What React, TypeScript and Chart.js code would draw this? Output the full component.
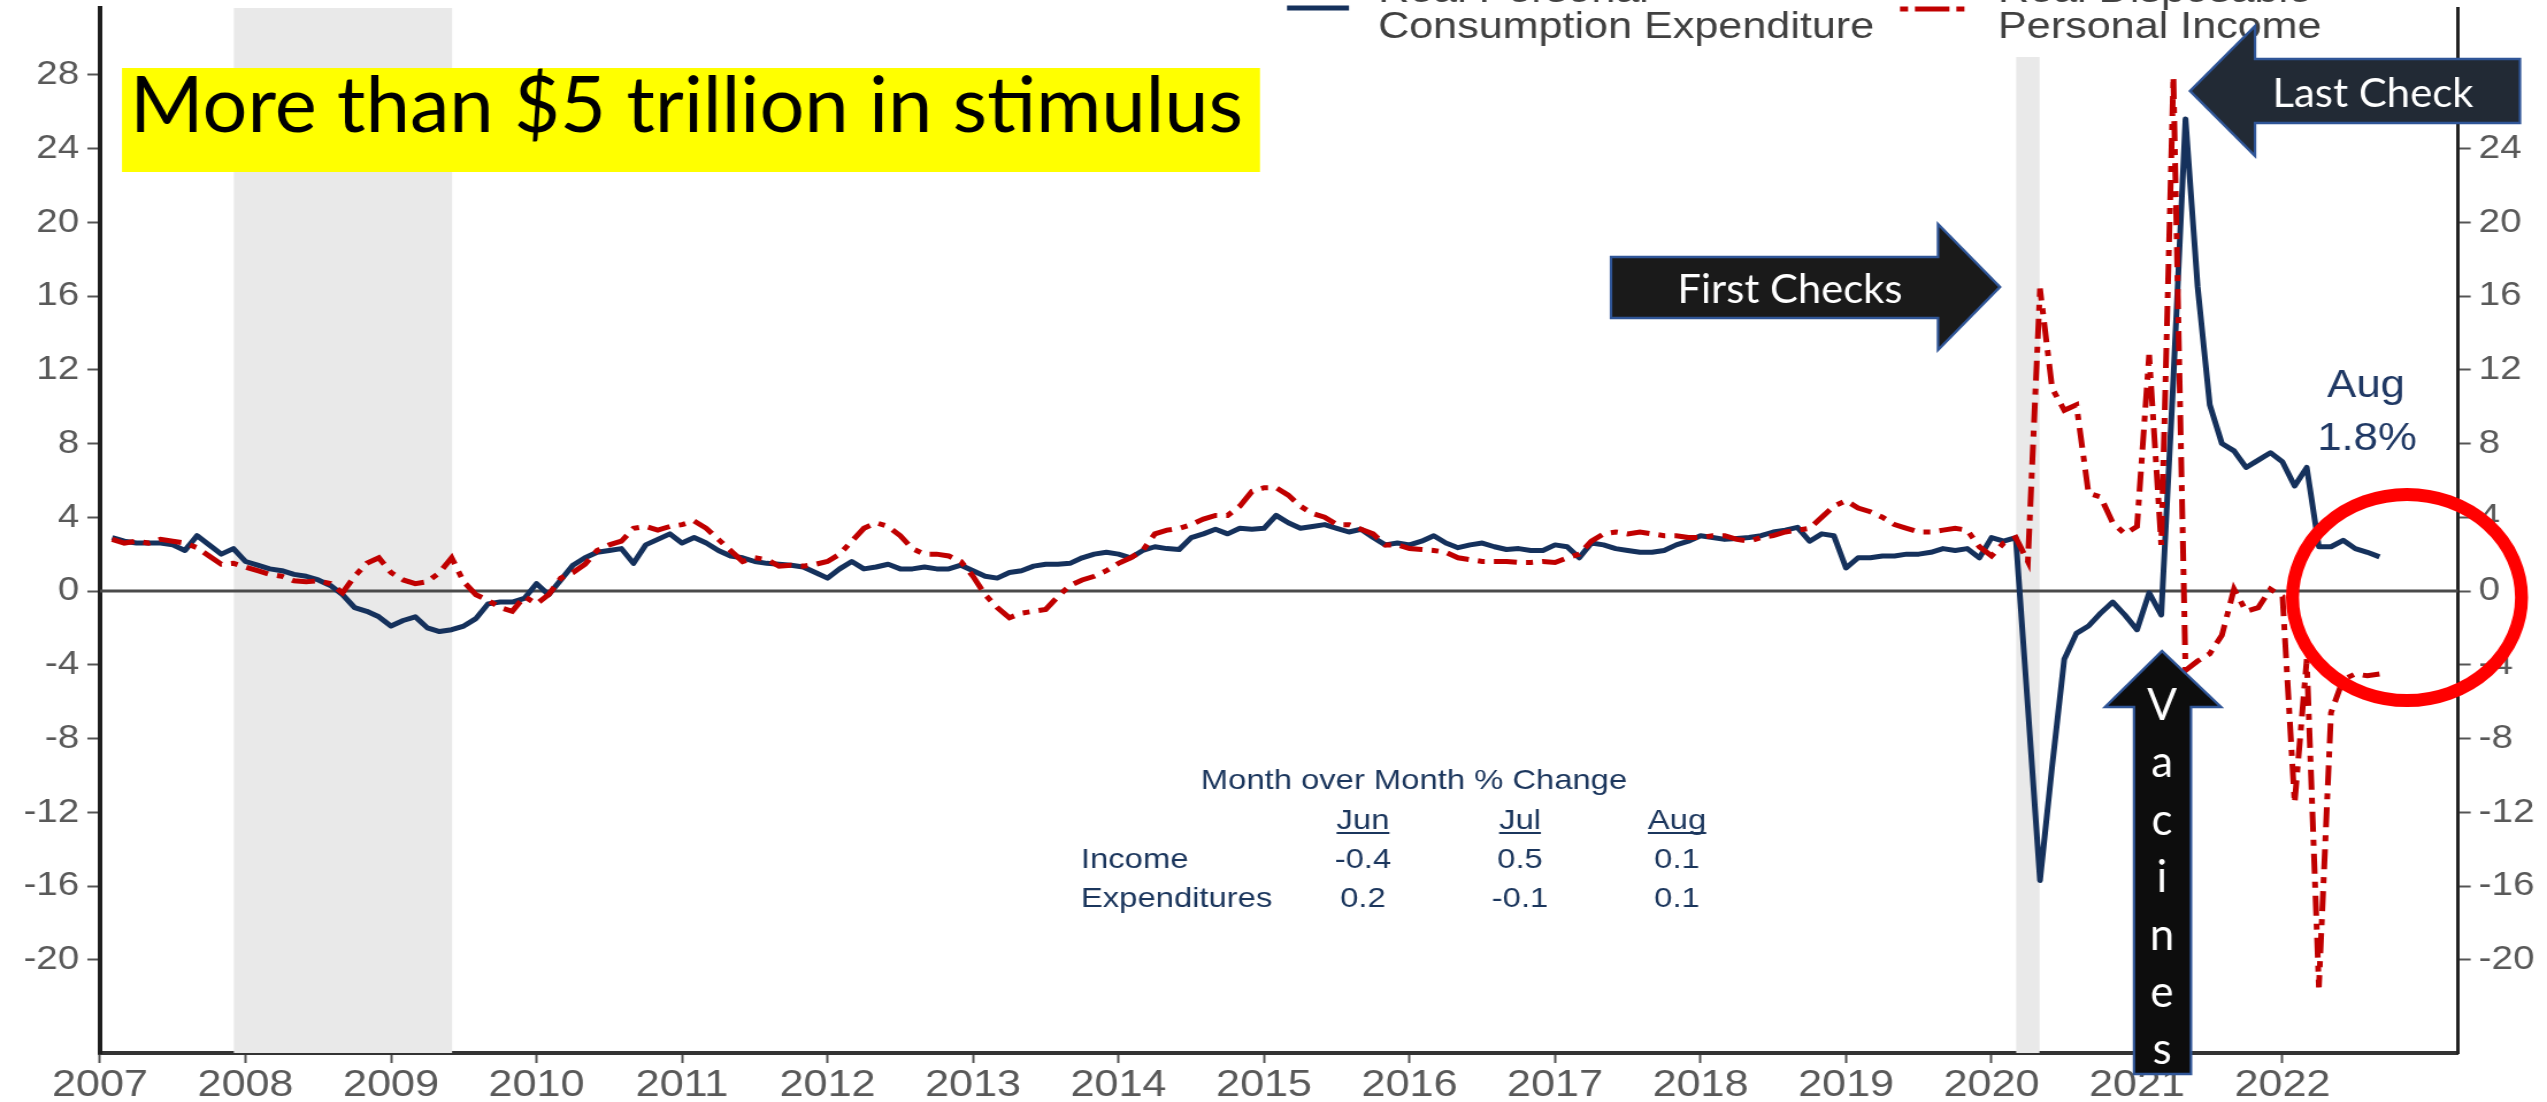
import React, { useEffect, useRef } from "react";
import { Chart, registerables } from "chart.js";

Chart.register(...registerables);

// ---------------- data ----------------
const START_YEAR = 2007; // monthly observations, Jan 2007 .. Aug 2022 (plotted at month end)

// Real Personal Consumption Expenditure, % y/y
const pceValues: number[] = [
  2.9, 2.7, 2.6, 2.6, 2.6, 2.5, 2.2, 3.0, 2.5, 2.0, 2.3, 1.6,
  1.4, 1.2, 1.1, 0.9, 0.8, 0.6, 0.3, -0.2, -0.9, -1.1, -1.4, -1.9,
  -1.6, -1.4, -2.0, -2.2, -2.1, -1.9, -1.5, -0.7, -0.6, -0.6, -0.4, 0.4,
  -0.2, 0.6, 1.4, 1.8, 2.1, 2.2, 2.3, 1.5, 2.5, 2.8, 3.1, 2.6,
  2.9, 2.6, 2.2, 1.9, 1.8, 1.6, 1.5, 1.45, 1.4, 1.3, 1.0, 0.7,
  1.2, 1.6, 1.2, 1.3, 1.45, 1.2, 1.2, 1.3, 1.2, 1.2, 1.4, 1.1,
  0.8, 0.7, 1.0, 1.1, 1.35, 1.45, 1.45, 1.5, 1.8, 2.0, 2.1, 2.0,
  1.8, 2.2, 2.4, 2.3, 2.25, 2.9, 3.1, 3.35, 3.1, 3.4, 3.35, 3.4,
  4.1, 3.7, 3.4, 3.5, 3.6, 3.4, 3.2, 3.35, 2.9, 2.5, 2.6, 2.5,
  2.7, 3.0, 2.6, 2.35, 2.5, 2.6, 2.4, 2.25, 2.3, 2.2, 2.2, 2.5,
  2.4, 1.8, 2.6, 2.5, 2.3, 2.2, 2.1, 2.1, 2.2, 2.5, 2.7, 3.0,
  2.9, 2.8, 2.85, 2.9, 3.0, 3.2, 3.3, 3.45, 2.7, 3.1, 3.0, 1.25,
  1.8, 1.8, 1.9, 1.9, 2.0, 2.0, 2.1, 2.3, 2.2, 2.3, 1.8, 2.9,
  2.7, 2.9, -6.3, -15.7, -9.5, -3.7, -2.3, -1.9, -1.2, -0.6, -1.3, -2.1,
  -0.1, -1.3, 11.5, 25.6, 16.5, 10.1, 8.0, 7.6, 6.7, 7.1, 7.5, 7.0,
  5.7, 6.7, 2.4, 2.4, 2.75, 2.3, 2.1, 1.85,
];

// Real Disposable Personal Income, % y/y
const dpiValues: number[] = [
  2.8, 2.6, 2.7, 2.6, 2.8, 2.7, 2.6, 2.35, 1.9, 1.45, 1.5, 1.3,
  1.1, 0.9, 0.8, 0.55, 0.5, 0.55, 0.4, -0.1, 0.8, 1.5, 1.8, 1.0,
  0.6, 0.4, 0.5, 1.0, 1.8, 0.5, -0.2, -0.5, -0.9, -1.1, -0.3, -0.7,
  -0.2, 0.7, 1.0, 1.45, 2.2, 2.5, 2.7, 3.4, 3.5, 3.3, 3.5, 3.6,
  3.8, 3.4, 2.8, 2.2, 1.6, 1.8, 1.7, 1.35, 1.4, 1.35, 1.45, 1.6,
  2.0, 2.7, 3.4, 3.7, 3.5, 3.0, 2.3, 2.0, 2.0, 1.9, 1.6, 0.8,
  -0.2, -0.9, -1.45, -1.2, -1.1, -1.0, -0.3, 0.3, 0.6, 0.8, 1.1, 1.5,
  1.8, 2.2, 3.1, 3.3, 3.4, 3.6, 3.9, 4.1, 4.1, 4.6, 5.4, 5.6,
  5.6, 5.2, 4.6, 4.2, 4.0, 3.6, 3.6, 3.35, 3.1, 2.5, 2.5, 2.3,
  2.25, 2.2, 2.1, 1.8, 1.7, 1.6, 1.6, 1.6, 1.55, 1.55, 1.6, 1.55,
  1.8, 2.0, 2.7, 3.1, 3.2, 3.1, 3.2, 3.1, 3.0, 3.0, 2.9, 2.9,
  3.0, 3.0, 2.8, 2.7, 2.9, 3.0, 3.2, 3.3, 3.4, 4.0, 4.6, 4.9,
  4.5, 4.3, 4.0, 3.6, 3.4, 3.2, 3.2, 3.3, 3.4, 3.3, 2.4, 1.9,
  2.6, 2.9, 1.6, 16.4, 11.0, 9.8, 10.1, 5.3, 5.1, 3.7, 3.1, 3.5,
  12.8, 2.5, 27.9, -4.3, -3.8, -3.4, -2.4, 0.1, -1.1, -0.9, 0.1, -0.3,
  -11.5, -3.7, -21.5, -6.6, -4.8, -4.5, -4.6, -4.5,
];

const xTickYears = [2007, 2008, 2009, 2010, 2011, 2012, 2013, 2014, 2015, 2016, 2017, 2018, 2019, 2020, 2021, 2022];
const yTickValues = [-20, -16, -12, -8, -4, 0, 4, 8, 12, 16, 20, 24, 28];
const recessionStarts = [2007.92, 2020.17];
const recessionEnds = [2009.42, 2020.33];

const seriesNames = [
  ["Real Personal", "Consumption Expenditure"],
  ["Real Disposable", "Personal Income"],
];
const tableTitle = "Month over Month % Change";
const tableMonths = ["Jun", "Jul", "Aug"];
const tableRowLabels = ["Income", "Expenditures"];
const tableIncome = ["-0.4", "0.5", "0.1"];
const tableExpenditures = ["0.2", "-0.1", "0.1"];
const augLabel = ["Aug", "1.8%"];
const headline = "More than $5 trillion in stimulus";
const firstChecksLabel = "First Checks";
const lastCheckLabel = "Last Check";
const vaccineLetters = ["V", "a", "c", "i", "n", "e", "s"];

// ---------------- layout ----------------
const FULL_W = 2547;
const FULL_H = 1102;
const CW = 2215; // chart canvas width before horizontal stretch
const S = FULL_W / CW; // horizontal stretch of the chart picture
const fx = (x: number) => x / S; // full-picture x -> chart canvas x

const NAVY = "#15315c";
const RED = "#c00000";
const TEXT_NAVY = "#1b365d";
const TICK_GRAY = "#595959";
const SANS = "'Liberation Sans', Arial, sans-serif";
const CAL = "Lato, 'Open Sans', sans-serif";

function fitText(ctx: CanvasRenderingContext2D, text: string, x: number, y: number, width: number, align: CanvasTextAlign) {
  const w = ctx.measureText(text).width;
  const sx = width / w;
  ctx.save();
  ctx.translate(x, y);
  ctx.scale(sx, 1);
  ctx.textAlign = align;
  ctx.fillText(text, 0, 0);
  ctx.restore();
}

const backgroundPlugin = {
  id: "bgShade",
  beforeDraw(chart: any) {
    const ctx = chart.ctx;
    ctx.save();
    ctx.fillStyle = "#ffffff";
    ctx.fillRect(0, 0, chart.width, chart.height);
    ctx.restore();
  },
  beforeDatasetsDraw(chart: any) {
    const { ctx, chartArea, scales } = chart;
    const xs = scales.x;
    const ys = scales.y;
    ctx.save();
    ctx.fillStyle = "#e9e9e9";
    for (let i = 0; i < recessionStarts.length; i++) {
      const a = xs.getPixelForValue(recessionStarts[i]);
      const b = xs.getPixelForValue(recessionEnds[i]);
      ctx.fillRect(a, chartArea.top, b - a, chartArea.bottom - chartArea.top);
    }
    // zero line
    const y0 = ys.getPixelForValue(0);
    ctx.strokeStyle = "#4a4a4a";
    ctx.lineWidth = 3;
    ctx.beginPath();
    ctx.moveTo(chartArea.left, y0);
    ctx.lineTo(chartArea.right, y0);
    ctx.stroke();

    // legend (white box, keys, labels)
    ctx.fillStyle = "#ffffff";
    ctx.fillRect(fx(1270), 0, fx(2345) - fx(1270), 57);
    ctx.lineCap = "butt";
    ctx.strokeStyle = NAVY;
    ctx.lineWidth = 5;
    ctx.beginPath();
    ctx.moveTo(fx(1287), 8);
    ctx.lineTo(fx(1349), 8);
    ctx.stroke();
    ctx.strokeStyle = RED;
    ctx.setLineDash([7, 6, 30, 6]);
    ctx.beginPath();
    ctx.moveTo(fx(1900), 9);
    ctx.lineTo(fx(1965), 9);
    ctx.stroke();
    ctx.setLineDash([]);
    ctx.fillStyle = "#404040";
    ctx.font = `37.5px ${SANS}`;
    ctx.textAlign = "left";
    ctx.textBaseline = "alphabetic";
    ctx.fillText(seriesNames[0][0], fx(1378), 2);
    ctx.fillText(seriesNames[0][1], fx(1378), 38);
    ctx.fillText(seriesNames[1][0], fx(1998), 2);
    ctx.fillText(seriesNames[1][1], fx(1998), 38);
    ctx.restore();
  },
  afterDatasetsDraw(chart: any) {
    const ctx = chart.ctx;
    ctx.save();
    ctx.fillStyle = TEXT_NAVY;
    ctx.strokeStyle = TEXT_NAVY;
    ctx.textBaseline = "alphabetic";
    ctx.font = `28.5px ${SANS}`;
    ctx.textAlign = "center";
    ctx.fillText(tableTitle, fx(1414), 789);
    const cols = [1363, 1520, 1677];
    tableMonths.forEach((m, i) => {
      ctx.textAlign = "center";
      ctx.fillText(m, fx(cols[i]), 829);
      const w = ctx.measureText(m).width;
      ctx.lineWidth = 2;
      ctx.beginPath();
      ctx.moveTo(fx(cols[i]) - w / 2, 833);
      ctx.lineTo(fx(cols[i]) + w / 2, 833);
      ctx.stroke();
    });
    ctx.textAlign = "left";
    ctx.fillText(tableRowLabels[0], fx(1081), 868);
    ctx.fillText(tableRowLabels[1], fx(1081), 907);
    ctx.textAlign = "center";
    tableIncome.forEach((v, i) => ctx.fillText(v, fx(cols[i]), 868));
    tableExpenditures.forEach((v, i) => ctx.fillText(v, fx(cols[i]), 907));

    ctx.font = `38px ${SANS}`;
    ctx.fillStyle = "#1f3864";
    ctx.fillText(augLabel[0], fx(2366), 397);
    ctx.fillText(augLabel[1], fx(2367), 450);
    ctx.restore();
  },
  afterDraw(chart: any) {
    const ctx: CanvasRenderingContext2D = chart.ctx;
    ctx.save();
    ctx.scale(1 / S, 1); // draw overlays in full-picture coordinates
    ctx.textBaseline = "alphabetic";

    // headline box
    ctx.fillStyle = "#ffff00";
    ctx.fillRect(122, 68, 1260 - 122, 104);
    ctx.fillStyle = "#000000";
    ctx.font = `77px ${CAL}`;
    fitText(ctx, headline, 130, 132, 1113, "left");

    const arrow = (pts: number[][], fill: string) => {
      ctx.beginPath();
      ctx.moveTo(pts[0][0], pts[0][1]);
      for (let i = 1; i < pts.length; i++) ctx.lineTo(pts[i][0], pts[i][1]);
      ctx.closePath();
      ctx.fillStyle = fill;
      ctx.fill();
      ctx.strokeStyle = "#2f5597";
      ctx.lineWidth = 2.5;
      ctx.stroke();
    };

    // First Checks
    arrow([[1611, 257], [1938, 257], [1938, 224], [2000, 287], [1938, 350], [1938, 318], [1611, 318]], "#1a1a1a");
    ctx.fillStyle = "#ffffff";
    ctx.font = `40px ${CAL}`;
    fitText(ctx, firstChecksLabel, 1790, 303, 225, "center");

    // Last Check
    arrow([[2520, 59], [2255, 59], [2255, 26], [2190, 91], [2255, 156], [2255, 123], [2520, 123]], "#222a35");
    ctx.fillStyle = "#ffffff";
    ctx.font = `40px ${CAL}`;
    fitText(ctx, lastCheckLabel, 2373, 107, 201, "center");

    // Vaccines
    arrow([[2134, 1074], [2134, 707], [2105, 707], [2162, 651], [2221, 707], [2191, 707], [2191, 1074]], "#0d0d0d");
    ctx.fillStyle = "#ffffff";
    ctx.font = `44px ${CAL}`;
    ctx.textAlign = "center";
    vaccineLetters.forEach((l, i) => ctx.fillText(l, 2162, 720 + i * 57.4));

    // red circle
    ctx.strokeStyle = "#ff0000";
    ctx.lineWidth = 13;
    ctx.beginPath();
    ctx.ellipse(2407, 597.5, 114.5, 103, 0, 0, Math.PI * 2);
    ctx.stroke();
    ctx.restore();
  },
};

const PLOT_LEFT = 100;
const PLOT_RIGHT = 2458;
const PLOT_TOP = 8;
const PLOT_BOTTOM = 1053;
const X_MIN = 2007;
const X_MAX = 2007 + (PLOT_RIGHT - PLOT_LEFT) / 145.5;
const Y_PER_UNIT = 73.75 / 4;
const Y_ZERO = 591;
const Y_MAX = (Y_ZERO - PLOT_TOP) / Y_PER_UNIT;
const Y_MIN = -(PLOT_BOTTOM - Y_ZERO) / Y_PER_UNIT;

export default function App() {
  const ref = useRef<HTMLCanvasElement>(null);

  useEffect(() => {
    if (!ref.current) return;
    const toPoints = (vals: number[]) => vals.map((v, i) => ({ x: START_YEAR + (i + 1) / 12, y: v }));
    const yAxis = (position: "left" | "right", width: number, pad: number) => ({
      type: "linear" as const,
      position,
      min: Y_MIN,
      max: Y_MAX,
      afterBuildTicks: (s: any) => {
        s.ticks = yTickValues.map((v) => ({ value: v }));
      },
      afterFit: (s: any) => {
        s.width = width;
        s.paddingTop = 0;
        s.paddingBottom = 0;
      },
      ticks: {
        autoSkip: false,
        padding: pad,
        color: TICK_GRAY,
        font: { family: SANS, size: 33.6 },
        callback: (v: any) => String(v),
      },
      grid: { display: true, drawOnChartArea: false, drawTicks: true, tickLength: 11, tickColor: "#555555", tickWidth: 2 },
      border: { display: true, color: position === "left" ? "#1e1e1e" : "#222222", width: position === "left" ? 4 : 3 },
    });

    const chart = new Chart(ref.current, {
      type: "line",
      data: {
        datasets: [
          {
            label: "Real Personal Consumption Expenditure",
            data: toPoints(pceValues),
            borderColor: NAVY,
            borderWidth: 5,
            pointRadius: 0,
            tension: 0,
            borderJoinStyle: "round",
            order: 1,
          },
          {
            label: "Real Disposable Personal Income",
            data: toPoints(dpiValues),
            borderColor: RED,
            borderWidth: 5,
            borderDash: [20, 8, 6, 8],
            pointRadius: 0,
            tension: 0,
            order: 0,
          },
        ],
      },
      options: {
        animation: false,
        responsive: false,
        maintainAspectRatio: false,
        events: [],
        layout: { padding: { top: PLOT_TOP, left: 0, right: 0, bottom: 0 } },
        plugins: { legend: { display: false }, tooltip: { enabled: false } },
        scales: {
          x: {
            type: "linear",
            min: X_MIN,
            max: X_MAX,
            afterBuildTicks: (s: any) => {
              s.ticks = xTickYears.map((v) => ({ value: v }));
            },
            afterFit: (s: any) => {
              s.height = FULL_H - PLOT_BOTTOM;
              s.paddingLeft = 0;
              s.paddingRight = 0;
            },
            ticks: {
              autoSkip: false,
              maxRotation: 0,
              padding: 0,
              color: TICK_GRAY,
              font: { family: SANS, size: 37.5 },
              callback: (v: any) => String(v),
            },
            grid: { display: true, drawOnChartArea: false, drawTicks: true, tickLength: 10, tickColor: "#555555", tickWidth: 2 },
            border: { display: true, color: "#333333", width: 4 },
          },
          y: yAxis("left", fx(PLOT_LEFT), 7),
          y2: yAxis("right", CW - fx(PLOT_RIGHT), 7),
        },
      } as any,
      plugins: [backgroundPlugin],
    });
    return () => chart.destroy();
  }, []);

  return (
    <div style={{ position: "fixed", left: 0, top: 0, width: FULL_W, height: FULL_H, overflow: "hidden", background: "#ffffff" }}>
      <div style={{ width: CW, height: FULL_H, transform: `scaleX(${S})`, transformOrigin: "0 0" }}>
        <canvas ref={ref} width={CW} height={FULL_H} style={{ width: CW, height: FULL_H, display: "block" }} />
      </div>
    </div>
  );
}
